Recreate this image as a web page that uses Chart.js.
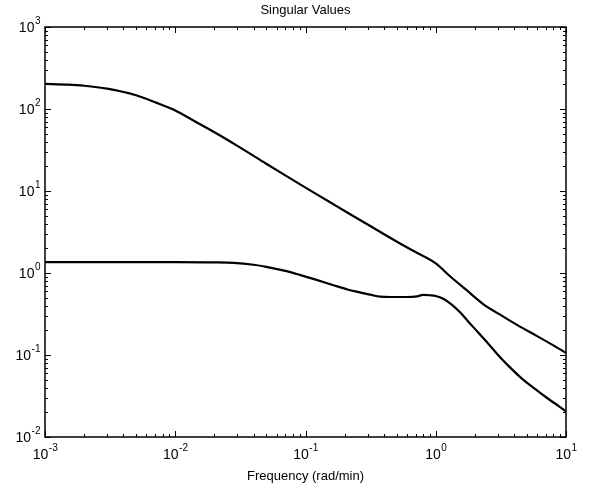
<!DOCTYPE html>
<html>
<head>
<meta charset="utf-8">
<title>Singular Values</title>
<script src="https://cdn.jsdelivr.net/npm/chart.js@4.4.1/dist/chart.umd.min.js"></script>
<style>
  html, body { margin: 0; padding: 0; background: #fff; }
</style>
</head>
<body>
<canvas id="chartSV" width="590" height="490"></canvas>
<script>
// values (frequency in rad/min)
var freqUpper  = [0.001, 0.0015, 0.002, 0.003, 0.005, 0.007, 0.01, 0.015, 0.02, 0.03, 0.05, 0.07, 0.1, 0.15, 0.2, 0.3, 0.5, 0.7, 1.0, 1.3, 1.7, 2.4, 3, 4.3, 6, 8, 10];
var sigmaUpper = [202, 198, 192, 177, 147, 121, 96, 67, 52, 35.5, 21.5, 15.5, 11, 7.5, 5.7, 3.9, 2.42, 1.8, 1.31, 0.9, 0.63, 0.40, 0.322, 0.228, 0.17, 0.131, 0.106];

var freqLower  = [0.001, 0.003, 0.01, 0.02, 0.028, 0.04, 0.05, 0.07, 0.09, 0.12, 0.164, 0.21, 0.262, 0.32, 0.373, 0.45, 0.6, 0.72, 0.8, 0.9, 1.0, 1.15, 1.32, 1.55, 1.78, 2.1, 2.39, 2.8, 3.21, 3.7, 4.3, 5, 5.78, 6.7, 7.76, 8.8, 10];
var sigmaLower = [1.36, 1.36, 1.36, 1.35, 1.33, 1.26, 1.19, 1.06, 0.95, 0.83, 0.71, 0.63, 0.58, 0.54, 0.515, 0.51, 0.51, 0.52, 0.54, 0.535, 0.525, 0.482, 0.414, 0.327, 0.255, 0.191, 0.152, 0.114, 0.0895, 0.0711, 0.0565, 0.046, 0.0386, 0.0323, 0.0273, 0.0238, 0.0205];

// decade exponents used for the tick labels
var xTickExp = [-3, -2, -1, 0, 1];
var yTickExp = [-2, -1, 0, 1, 2, 3];

var FONT = 'Liberation Sans, Arial, Helvetica, sans-serif';

function toPoints(xs, ys) {
    return xs.map(function (x, i) { return { x: x, y: ys[i] }; });
}

// draws "10" with a raised exponent
function drawPow(ctx, exp, x, y, align) {
    ctx.font = '14px ' + FONT;
    var wBase = ctx.measureText('10').width;
    ctx.font = '10px ' + FONT;
    var wExp = ctx.measureText(String(exp)).width;
    var left = align === 'center' ? x - (wBase + wExp) / 2 : x - (wBase + wExp);
    ctx.textAlign = 'left';
    ctx.textBaseline = 'alphabetic';
    ctx.font = '14px ' + FONT;
    ctx.fillText('10', left, y);
    ctx.font = '10px ' + FONT;
    ctx.fillText(String(exp), left + wBase + 0.5, y - 8);
}

// box, inward ticks, labels and titles in the old matlab look
var matlabAxes = {
    id: 'matlabAxes',
    afterDraw: function (chart) {
        var ctx = chart.ctx;
        var a = chart.chartArea;
        var xs = chart.scales.x, ys = chart.scales.y;
        ctx.save();
        ctx.strokeStyle = '#000';
        ctx.fillStyle = '#000';
        ctx.lineWidth = 1.5;
        ctx.strokeRect(a.left, a.top, a.right - a.left, a.bottom - a.top);

        ctx.lineWidth = 1;
        ctx.beginPath();
        xTickExp.forEach(function (e) {
            for (var m = 1; m <= 9; m++) {
                var v = m * Math.pow(10, e);
                if (v > xs.max * 1.0001) break;
                var px = Math.round(xs.getPixelForValue(v)) + 0.5;
                var len = m === 1 ? 6 : 3;
                ctx.moveTo(px, a.bottom); ctx.lineTo(px, a.bottom - len);
                ctx.moveTo(px, a.top); ctx.lineTo(px, a.top + len);
            }
        });
        yTickExp.forEach(function (e) {
            for (var m = 1; m <= 9; m++) {
                var v = m * Math.pow(10, e);
                if (v > ys.max * 1.0001) break;
                var py = Math.round(ys.getPixelForValue(v)) + 0.5;
                var len = m === 1 ? 6 : 3;
                ctx.moveTo(a.left, py); ctx.lineTo(a.left + len, py);
                ctx.moveTo(a.right, py); ctx.lineTo(a.right - len, py);
            }
        });
        ctx.stroke();

        xTickExp.forEach(function (e) {
            drawPow(ctx, e, xs.getPixelForValue(Math.pow(10, e)), a.bottom + 22, 'center');
        });
        yTickExp.forEach(function (e) {
            drawPow(ctx, e, a.left - 5, ys.getPixelForValue(Math.pow(10, e)) + 5, 'right');
        });

        var cx = (a.left + a.right) / 2;
        ctx.textAlign = 'center';
        ctx.textBaseline = 'alphabetic';
        ctx.font = '13px ' + FONT;
        ctx.fillText('Singular Values', cx, 14);
        ctx.fillText('Frequency (rad/min)', cx, 480);
        ctx.restore();
    }
};

var chartSV = new Chart(document.getElementById('chartSV'), {
    type: 'line',
    data: {
        datasets: [
            {
                label: 'σ1',
                data: toPoints(freqUpper, sigmaUpper),
                borderColor: '#000',
                borderWidth: 2.2,
                pointRadius: 0,
                cubicInterpolationMode: 'monotone'
            },
            {
                label: 'σ2',
                data: toPoints(freqLower, sigmaLower),
                borderColor: '#000',
                borderWidth: 2.2,
                pointRadius: 0,
                cubicInterpolationMode: 'monotone'
            }
        ]
    },
    options: {
        responsive: false,
        animation: false,
        devicePixelRatio: 1,
        layout: { padding: { left: 45, top: 27, right: 24, bottom: 53 } },
        plugins: {
            legend: { display: false },
            tooltip: { enabled: false },
            title: { display: false }
        },
        scales: {
            x: { type: 'logarithmic', min: 0.001, max: 10, display: false },
            y: { type: 'logarithmic', min: 0.01, max: 1000, display: false }
        }
    },
    plugins: [matlabAxes]
});
</script>
</body>
</html>
